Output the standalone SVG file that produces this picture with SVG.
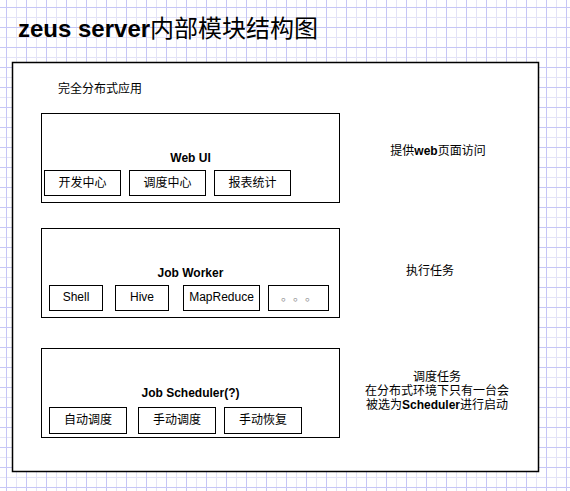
<svg xmlns="http://www.w3.org/2000/svg" width="570" height="491" viewBox="0 0 570 491">
<style>
text{font-family:"Liberation Sans","Noto Sans CJK SC",sans-serif;font-size:12px;fill:#000}
.b{font-weight:bold}
.box{fill:#fff;stroke:#000;stroke-width:1}
.c{text-anchor:middle}
</style>
<defs>
<pattern id="grid" patternUnits="userSpaceOnUse" x="0" y="0" width="20" height="20">
<path d="M16.5 0V20M0 17.5H20" stroke="#e3e3f7" stroke-width="1" fill="none"/>
<path d="M6.5 0V20M0 7.5H20" stroke="#c6c6f6" stroke-width="1" fill="none"/>
</pattern>
</defs>
<rect width="570" height="491" fill="#fff"/>
<rect width="570" height="491" fill="url(#grid)"/>
<g id="title">
<text x="18" y="37" style="font-size:24px"><tspan class="b">zeus server</tspan>内部模块结构图</text>
</g>
<g id="container">
<rect x="12.5" y="62.5" width="526" height="409" fill="#fff" stroke="#000" stroke-width="1.5"/>
<text x="58" y="93">完全分布式应用</text>
</g>
<g id="webui">
<rect class="box" x="41.5" y="113.5" width="298" height="89"/>
<text class="c b" x="190.5" y="161.5">Web UI</text>
</g>
<g id="dev-center">
<rect class="box" x="44.5" y="170.5" width="76" height="25"/>
<text class="c" x="82.5" y="187">开发中心</text>
</g>
<g id="schedule-center">
<rect class="box" x="129.5" y="170.5" width="76" height="25"/>
<text class="c" x="167.5" y="187">调度中心</text>
</g>
<g id="report">
<rect class="box" x="214.5" y="170.5" width="76" height="25"/>
<text class="c" x="252.5" y="187">报表统计</text>
</g>
<g id="webui-note">
<text class="c" x="438" y="155">提供<tspan class="b">web</tspan>页面访问</text>
</g>
<g id="worker">
<rect class="box" x="41.5" y="228.5" width="298" height="89"/>
<text class="c b" x="190.5" y="277">Job Worker</text>
</g>
<g id="shell">
<rect class="box" x="49.5" y="285.5" width="53" height="25"/>
<text class="c" x="76" y="301">Shell</text>
</g>
<g id="hive">
<rect class="box" x="115.5" y="285.5" width="53" height="25"/>
<text class="c" x="142" y="301">Hive</text>
</g>
<g id="mapreduce">
<rect class="box" x="183.5" y="285.5" width="76" height="25"/>
<text class="c" x="221.5" y="301">MapReduce</text>
</g>
<g id="more">
<rect class="box" x="268.5" y="285.5" width="60" height="25"/>
<text x="281 293 305" y="301" style="fill:#999;font-family:'Noto Sans CJK SC',sans-serif">。。。</text>
</g>
<g id="worker-note">
<text class="c" x="430" y="275">执行任务</text>
</g>
<g id="scheduler">
<rect class="box" x="41.5" y="348.5" width="298" height="89"/>
<text class="c b" x="190.5" y="397">Job Scheduler(?)</text>
</g>
<g id="auto-schedule">
<rect class="box" x="49.5" y="407.5" width="77" height="26"/>
<text class="c" x="88" y="424">自动调度</text>
</g>
<g id="manual-schedule">
<rect class="box" x="138.5" y="407.5" width="77" height="26"/>
<text class="c" x="177" y="424">手动调度</text>
</g>
<g id="manual-recover">
<rect class="box" x="224.5" y="407.5" width="77" height="26"/>
<text class="c" x="263" y="424">手动恢复</text>
</g>
<g id="scheduler-note">
<text class="c" x="437" y="381">调度任务</text>
<text class="c" x="437" y="395">在分布式环境下只有一台会</text>
<text class="c" x="437" y="409">被选为<tspan class="b">Scheduler</tspan>进行启动</text>
</g>
<g id="connectors"/>
</svg>
